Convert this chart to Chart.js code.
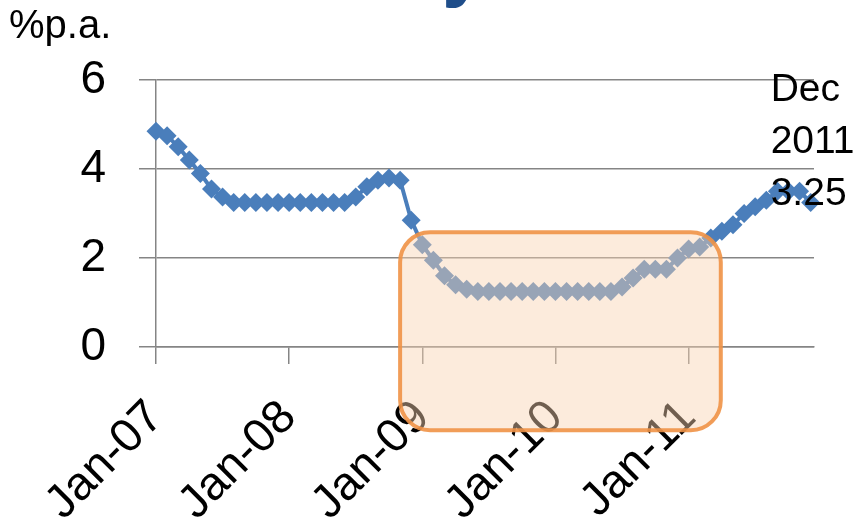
<!DOCTYPE html>
<html>
<head>
<meta charset="utf-8">
<script src="https://cdn.jsdelivr.net/npm/chart.js@4.4.0/dist/chart.umd.min.js"></script>
<style>
  html, body { margin: 0; padding: 0; background: #ffffff; }
  #wrap { width: 858px; height: 522px; position: relative; overflow: hidden; }
</style>
</head>
<body>
<div id="wrap"><canvas id="chart" width="858" height="522"></canvas></div>
<script>
// Policy rate, monthly, % per annum
const monthNames = ['Jan', 'Feb', 'Mar', 'Apr', 'May', 'Jun', 'Jul', 'Aug', 'Sep', 'Oct', 'Nov', 'Dec'];
const yearNames = ['2007', '2008', '2009', '2010', '2011'];
const rate2007 = [4.85, 4.75, 4.5, 4.2, 3.9, 3.55, 3.37, 3.25, 3.25, 3.25, 3.25, 3.25];
const rate2008 = [3.25, 3.25, 3.25, 3.25, 3.25, 3.25, 3.37, 3.6, 3.75, 3.8, 3.75, 2.85];
const rate2009 = [2.3, 1.95, 1.6, 1.4, 1.3, 1.25, 1.25, 1.25, 1.25, 1.25, 1.25, 1.25];
const rate2010 = [1.25, 1.25, 1.25, 1.25, 1.25, 1.25, 1.35, 1.55, 1.75, 1.75, 1.75, 2.0];
const rate2011 = [2.2, 2.25, 2.45, 2.6, 2.75, 3.0, 3.15, 3.3, 3.5, 3.5, 3.5, 3.25];
const tickLabels = ['Jan-07', 'Jan-08', 'Jan-09', 'Jan-10', 'Jan-11'];
const tickMonths = [0, 12, 24, 36, 48];
const yTickValues = [0, 2, 4, 6];
const unitLabel = '%p.a.';

const rates = [].concat(rate2007, rate2008, rate2009, rate2010, rate2011);
const categories = [];
yearNames.forEach(y => monthNames.forEach(m => categories.push(m + ' ' + y)));
const points = rates.map((v, i) => ({ x: i, y: v }));

// Shaded zone marking the low-rate period (in axis units)
const zone = { fromMonth: 22.0, toMonth: 50.9, low: -1.87, high: 2.58 };

const FONT = "'Liberation Sans', Arial, Helvetica, sans-serif";
const BLUE = '#4A7EBB';
const GRID = '#858585';

const decorations = {
  id: 'decorations',
  afterDatasetsDraw(chart) {
    // Callout for the latest reading
    const { ctx } = chart;
    const meta = chart.getDatasetMeta(0);
    const last = meta.data[meta.data.length - 1];
    const parts = categories[categories.length - 1].split(' ');
    const lines = [parts[0], parts[1], rates[rates.length - 1].toFixed(2)];
    ctx.save();
    ctx.fillStyle = '#000';
    ctx.font = '39px ' + FONT;
    ctx.textAlign = 'left';
    ctx.textBaseline = 'alphabetic';
    const x0 = last.x - 40;
    lines.forEach((t, i) => ctx.fillText(t, x0, last.y - 101 + i * 52));
    ctx.restore();
  },
  afterDraw(chart) {
    const { ctx, scales } = chart;
    const xs = scales.x, ys = scales.y;
    // Highlight box over the trough
    const l = xs.getPixelForValue(zone.fromMonth);
    const r = xs.getPixelForValue(zone.toMonth);
    const t = ys.getPixelForValue(zone.high);
    const b = ys.getPixelForValue(zone.low);
    const rad = 30;
    ctx.save();
    ctx.beginPath();
    ctx.moveTo(l + rad, t);
    ctx.lineTo(r - rad, t);
    ctx.arcTo(r, t, r, t + rad, rad);
    ctx.lineTo(r, b - rad);
    ctx.arcTo(r, b, r - rad, b, rad);
    ctx.lineTo(l + rad, b);
    ctx.arcTo(l, b, l, b - rad, rad);
    ctx.lineTo(l, t + rad);
    ctx.arcTo(l, t, l + rad, t, rad);
    ctx.closePath();
    ctx.fillStyle = 'rgba(248, 210, 177, 0.45)';
    ctx.fill();
    ctx.lineWidth = 4;
    ctx.strokeStyle = 'rgba(240, 146, 70, 0.9)';
    ctx.stroke();
    ctx.restore();

    // Unit label above the value axis
    ctx.save();
    ctx.fillStyle = '#000';
    ctx.font = '40px ' + FONT;
    ctx.textAlign = 'left';
    ctx.textBaseline = 'alphabetic';
    ctx.fillText(unitLabel, 9, 38);
    ctx.restore();

    // Tail of the slide heading above the chart
    ctx.save();
    ctx.fillStyle = '#1F4E8A';
    ctx.font = 'bold 80px ' + FONT;
    ctx.textBaseline = 'alphabetic';
    ctx.fillText('y', 442, -9);
    ctx.restore();
  }
};

new Chart(document.getElementById('chart').getContext('2d'), {
  type: 'line',
  data: {
    datasets: [{
      data: points,
      borderColor: BLUE,
      backgroundColor: BLUE,
      borderWidth: 4,
      pointStyle: 'rectRot',
      pointRadius: 9.5,
      pointHoverRadius: 9.5,
      pointBorderWidth: 0,
      pointBackgroundColor: BLUE,
      tension: 0,
      clip: false
    }]
  },
  options: {
    responsive: false,
    animation: false,
    events: [],
    layout: { padding: { top: 80, right: 44, left: 0, bottom: 0 } },
    plugins: { legend: { display: false }, tooltip: { enabled: false }, title: { display: false } },
    scales: {
      x: {
        type: 'linear',
        min: 0,
        max: 59.3,
        afterBuildTicks: s => { s.ticks = tickMonths.map(v => ({ value: v })); },
        afterFit: s => { s.height = 175; },
        ticks: {
          autoSkip: false,
          minRotation: 45,
          maxRotation: 45,
          padding: 26,
          color: '#000',
          font: { size: 47, family: FONT },
          callback: v => tickLabels[tickMonths.indexOf(v)]
        },
        grid: { drawOnChartArea: false, drawTicks: true, tickLength: 17, color: GRID, lineWidth: 1.5 },
        border: { display: true, color: GRID, width: 1.5 }
      },
      y: {
        min: 0,
        max: 6,
        afterBuildTicks: s => { s.ticks = yTickValues.map(v => ({ value: v })); },
        afterFit: s => { s.width = 156; },
        ticks: {
          padding: 33,
          color: '#000',
          font: { size: 46, family: FONT }
        },
        grid: { color: GRID, lineWidth: 1.5, tickLength: 17, drawTicks: true },
        border: { display: true, color: GRID, width: 1.5 }
      }
    }
  },
  plugins: [decorations]
});
</script>
</body>
</html>
